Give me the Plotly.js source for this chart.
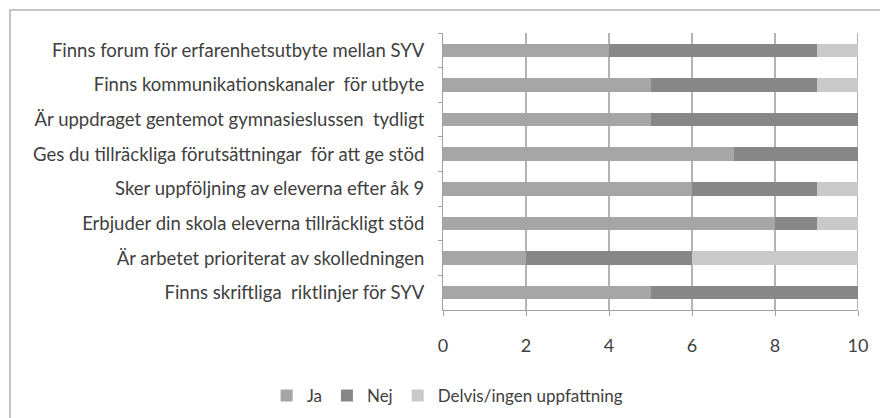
<!DOCTYPE html>
<html>
<head>
<meta charset="utf-8">
<script src="https://cdn.plot.ly/plotly-3.0.1.min.js"></script>
<style>
  html, body { margin: 0; padding: 0; background: #ffffff; }
  #wrap { position: relative; width: 880px; height: 418px; overflow: hidden; }
  #frame { position: absolute; left: 9px; top: 9px; width: 900px; height: 430px;
           border-left: 2px solid #c4c4c4; border-top: 2px solid #c4c4c4; pointer-events: none; }
  #chart { position: absolute; left: 0; top: 0; width: 880px; height: 418px; }
</style>
</head>
<body>
<div id="wrap">
  <div id="chart"></div>
  <div id="frame"></div>
</div>
<script>
// Categories, listed top to bottom as in the picture
const categories = [
  "Finns forum för erfarenhetsutbyte mellan SYV",
  "Finns kommunikationskanaler  för utbyte",
  "Är uppdraget gentemot gymnasieslussen  tydligt",
  "Ges du tillräckliga förutsättningar  för att ge stöd",
  "Sker uppföljning av eleverna efter åk 9",
  "Erbjuder din skola eleverna tillräckligt stöd",
  "Är arbetet prioriterat av skolledningen",
  "Finns skriftliga  riktlinjer för SYV"
];
const seriesNames = ["Ja", "Nej", "Delvis/ingen uppfattning"];
const ja     = [4, 5, 5, 7, 6, 8, 2, 5];
const nej    = [5, 4, 5, 3, 3, 1, 4, 5];
const delvis = [1, 1, 0, 0, 1, 1, 4, 0];
const xTicks = [0, 2, 4, 6, 8, 10];

const colors = ["#a6a6a6", "#878787", "#c9c9c9"];
const values = [ja, nej, delvis];

const traces = values.map((v, i) => ({
  type: "bar",
  orientation: "h",
  name: seriesNames[i],
  y: categories,
  x: v,
  marker: { color: colors[i], line: { width: 0 } }
}));

// vertical grid lines at the x tick values, drawn behind the bars
const gridShapes = xTicks.filter(t => t > 0).map(t => ({
  type: "line", xref: "x", yref: "paper", x0: t, x1: t, y0: 0, y1: 1,
  layer: "between",
  line: { color: "#b3b3b3", width: 2 }
}));

const font = { family: "Lato, 'Open Sans', sans-serif", color: "#404040" };

const layout = {
  width: 880,
  height: 418,
  margin: { l: 443, r: 22, t: 33, b: 108, pad: 0, autoexpand: false },
  barmode: "stack",
  bargap: 0.61,
  font: Object.assign({ size: 16 }, font),
  showlegend: true,
  legend: {
    orientation: "h",
    x: -0.425, xanchor: "left",
    y: -0.31, yanchor: "middle",
    traceorder: "normal",
    font: Object.assign({ size: 17 }, font)
  },
  shapes: gridShapes,
  xaxis: {
    range: [0, 10],
    tickvals: xTicks,
    ticktext: xTicks.map(String),
    showgrid: true,
    gridcolor: "#b3b3b3",
    gridwidth: 1,
    zeroline: false,
    showline: true,
    linecolor: "#a0a0a0",
    ticks: "outside",
    ticklen: 5,
    tickcolor: "#a0a0a0",
    ticklabelstandoff: 14,
    automargin: false,
    tickfont: Object.assign({ size: 18 }, font)
  },
  yaxis: {
    type: "category",
    autorange: "reversed",
    showgrid: false,
    zeroline: false,
    showline: true,
    linecolor: "#a0a0a0",
    ticks: "outside",
    tickson: "boundaries",
    ticklen: 4,
    tickcolor: "#a0a0a0",
    ticklabelstandoff: 14,
    automargin: false,
    tickfont: Object.assign({ size: 18.5 }, font)
  }
};

Plotly.newPlot("chart", traces, layout, { displayModeBar: false, staticPlot: true });
</script>
</body>
</html>
